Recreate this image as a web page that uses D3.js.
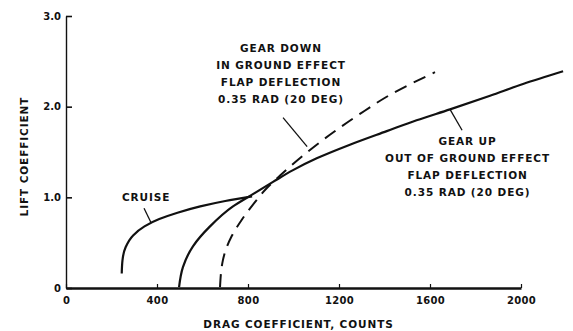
<!DOCTYPE html>
<html><head><meta charset="utf-8">
<script src="https://cdn.jsdelivr.net/npm/d3@7"></script>
<style>
html,body{margin:0;padding:0;background:#fff;}
svg{display:block;}
text{font-family:"DejaVu Sans",sans-serif;font-weight:bold;fill:#111;}
</style></head>
<body><svg id="c" width="573" height="331"></svg>
<script>
// ---- data ----
const xTicks = [0, 400, 800, 1200, 1600, 2000];
const yTicks = [0, 1, 2, 3];
const yTickLabels = ["0", "1.0", "2.0", "3.0"];
const xTitle = "DRAG COEFFICIENT, COUNTS";
const yTitle = "LIFT COEFFICIENT";

// cruise (solid)
const cruiseX = [245, 248, 262, 295, 345, 410, 490, 590, 700, 818];
const cruiseY = [0.16, 0.30, 0.45, 0.58, 0.68, 0.76, 0.83, 0.90, 0.96, 1.01];
// gear up, out of ground effect (solid)
const gearUpX = [497, 514, 558, 633, 734, 818, 910, 998, 1102, 1248, 1410, 1541, 1688, 1864, 2009, 2185];
const gearUpY = [0.01, 0.23, 0.46, 0.68, 0.90, 1.03, 1.17, 1.30, 1.43, 1.58, 1.73, 1.85, 1.97, 2.12, 2.25, 2.39];
// gear down, in ground effect (dashed)
const gearDownX = [677, 690, 728, 772, 822, 882, 941, 1042, 1160, 1292, 1424, 1622];
const gearDownY = [0.01, 0.31, 0.57, 0.75, 0.92, 1.10, 1.24, 1.46, 1.69, 1.92, 2.13, 2.38];

// annotation texts (anchored in data units)
const cruiseLabel = ["CRUISE"];
const gearDownLabel = ["GEAR DOWN", "IN GROUND EFFECT", "FLAP DEFLECTION", "0.35 RAD (20 DEG)"];
const gearUpLabel = ["GEAR UP", "OUT OF GROUND EFFECT", "FLAP DEFLECTION", "0.35 RAD (20 DEG)"];

// ---- chart ----
const svg = d3.select("#c");
const x = d3.scaleLinear().domain([0, 2000]).range([66, 521]);
const y = d3.scaleLinear().domain([0, 3]).range([288, 16]);

// axes
const xAxis = d3.axisBottom(x).tickValues(xTicks).tickSize(0).tickPadding(9).tickFormat(d3.format("d"));
const gx = svg.append("g").attr("transform", `translate(0,${y(0)})`).call(xAxis);
gx.select(".domain").attr("stroke", "#111").attr("stroke-width", 2.6);
gx.selectAll(".tick text").attr("font-size", 10).attr("fill", "#111").style("letter-spacing","0.3px");
gx.selectAll(".tick").append("line").attr("y1", 0).attr("y2", -4).attr("stroke", "#111").attr("stroke-width", 1.2);

const yAxis = d3.axisLeft(y).tickValues(yTicks).tickSize(0).tickPadding(5)
  .tickFormat((d, i) => yTickLabels[i]);
const gy = svg.append("g").attr("transform", `translate(${x(0)},0)`).call(yAxis);
gy.select(".domain").attr("stroke", "#111").attr("stroke-width", 1.4);
gy.selectAll(".tick text").attr("font-size", 10).attr("fill", "#111");
gy.selectAll(".tick").append("line").attr("x1", 0).attr("x2", 6).attr("stroke", "#111").attr("stroke-width", 1.6);

// titles
svg.append("text").attr("x", (x(0) + x(2000)) / 2 + 5).attr("y", 328)
  .attr("text-anchor", "middle").attr("font-size", 10.5).style("letter-spacing", "0.9px").text(xTitle);
svg.append("text").attr("transform", `translate(28,${y(1.45)}) rotate(-90)`)
  .attr("text-anchor", "middle").attr("font-size", 10.5).style("letter-spacing", "0.9px").text(yTitle);

// curves
const line = d3.line().x(d => x(d[0])).y(d => y(d[1])).curve(d3.curveMonotoneY);
const zip = (a, b) => a.map((v, i) => [v, b[i]]);

svg.append("path").datum(zip(cruiseX, cruiseY)).attr("d", line)
  .attr("fill", "none").attr("stroke", "#111").attr("stroke-width", 2.2);
svg.append("path").datum(zip(gearUpX, gearUpY)).attr("d", line)
  .attr("fill", "none").attr("stroke", "#111").attr("stroke-width", 2.2);
svg.append("path").datum(zip(gearDownX, gearDownY)).attr("d", line)
  .attr("fill", "none").attr("stroke", "#111").attr("stroke-width", 2)
  .attr("stroke-dasharray", "13,8");

// annotations
function block(lines, cx, cy, dy) {
  lines.forEach((t, i) => {
    svg.append("text").attr("x", x(cx)).attr("y", y(cy) + i * dy)
      .attr("text-anchor", "middle").attr("font-size", 10.5).style("letter-spacing", "0.9px").text(t);
  });
}
block(cruiseLabel, 352, 0.96, 0);
block(gearDownLabel, 945, 2.60, 17);
block(gearUpLabel, 1765, 1.58, 17);

function leader(x1, y1, x2, y2) {
  svg.append("line").attr("x1", x(x1)).attr("y1", y(y1)).attr("x2", x(x2)).attr("y2", y(y2))
    .attr("stroke", "#111").attr("stroke-width", 1.3);
}
leader(343, 0.88, 374, 0.72);
leader(954, 1.88, 1060, 1.56);
leader(1688, 1.97, 1741, 1.74);
</script></body></html>
